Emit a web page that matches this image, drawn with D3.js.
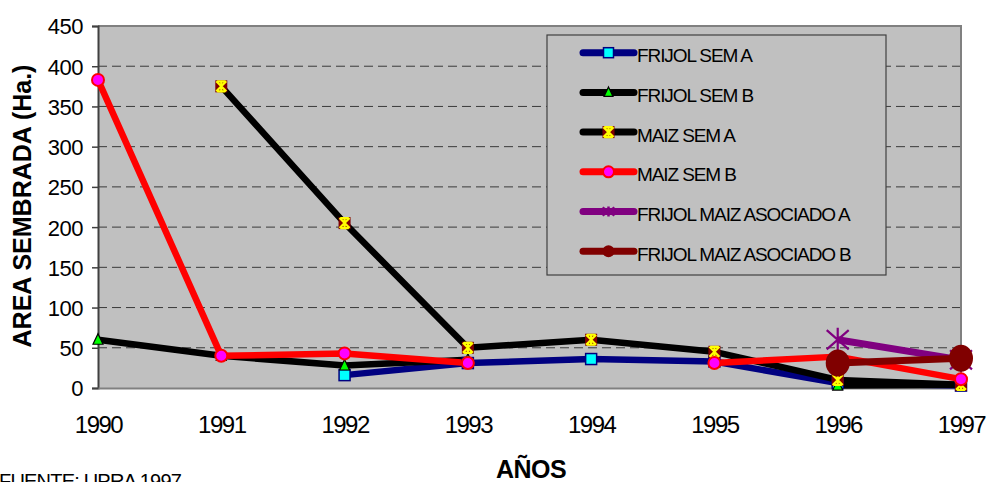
<!DOCTYPE html>
<html><head><meta charset="utf-8">
<script src="https://cdn.jsdelivr.net/npm/d3@7"></script>
<style>body{margin:0;background:#fff} svg{display:block}</style>
</head><body>
<svg id="c" width="989" height="482"></svg>
<script>
// ---- data ----
const years = ["1990","1991","1992","1993","1994","1995","1996","1997"];
const frijolSemA = [null, null, 16, 31, 36, 33, 6, 3];
const frijolSemB = [60, 40, 28, 35, null, null, 3, 4];
const maizSemA   = [null, 375, 205, 50, 60, 45, 10, 4];
const maizSemB   = [383, 40, 43, 31, null, 31, 39, 11];
const asocA      = [null, null, null, null, null, null, 60, 35];
const asocB      = [null, null, null, null, null, null, 31, 37];
const yTicks = [0, 50, 100, 150, 200, 250, 300, 350, 400, 450];
const seriesNames = ["FRIJOL SEM A","FRIJOL SEM B","MAIZ SEM A","MAIZ SEM B","FRIJOL MAIZ ASOCIADO A","FRIJOL MAIZ ASOCIADO B"];
const yTitle = "AREA SEMBRADA (Ha.)";
const xTitle = "AÑOS";
const source = "FUENTE: UPRA 1997";

const series = [
  {name: seriesNames[0], values: frijolSemA, color: "#000080", marker: "square"},
  {name: seriesNames[1], values: frijolSemB, color: "#000000", marker: "triangle"},
  {name: seriesNames[2], values: maizSemA,   color: "#000000", marker: "xsquare"},
  {name: seriesNames[3], values: maizSemB,   color: "#FF0000", marker: "circle"},
  {name: seriesNames[4], values: asocA,      color: "#800080", marker: "star"},
  {name: seriesNames[5], values: asocB,      color: "#800000", marker: "bigcircle"}
];

const svg = d3.select("#c");
const L = 98, R = 961, T = 26, B = 388;
const x = d3.scalePoint().domain(years).range([L, R]).padding(0);
const y = d3.scaleLinear().domain([0, 450]).range([B, T]);
const font = "'Liberation Sans', Arial, sans-serif";

// plot area
svg.append("rect").attr("x", L).attr("y", T).attr("width", R - L).attr("height", B - T)
  .attr("fill", "#C0C0C0");

// grid
svg.append("g").selectAll("line").data(yTicks.filter(v => v > 0 && v < 450)).join("line")
  .attr("x1", L).attr("x2", R).attr("y1", d => y(d)).attr("y2", d => y(d))
  .attr("stroke", "#3a3a3a").attr("stroke-width", 1).attr("stroke-dasharray", "9,5");

// border top/right
svg.append("path").attr("d", `M${L},${T}H${R}V${B}`).attr("fill", "none")
  .attr("stroke", "#808080").attr("stroke-width", 2);

// y axis
const yAxis = d3.axisLeft(y).tickValues(yTicks).tickSize(6).tickPadding(9).tickFormat(d3.format("d"));
const gy = svg.append("g").attr("transform", `translate(${L},0)`).call(yAxis);
gy.select(".domain").attr("stroke", "#404040").attr("stroke-width", 2);
gy.selectAll(".tick line").attr("stroke", "#404040").attr("stroke-width", 1.5);
gy.selectAll(".tick text").attr("font-family", font).attr("font-size", 22)
  .attr("letter-spacing", "-0.5px").attr("fill", "#000").attr("dy", "0.36em");

// x axis
const xAxis = d3.axisBottom(x).tickSize(0).tickPadding(0);
const gx = svg.append("g").attr("transform", `translate(0,${B})`).call(xAxis);
gx.select(".domain").attr("stroke", "#808080").attr("stroke-width", 2);
gx.selectAll(".tick text").attr("font-family", font).attr("font-size", 24)
  .attr("letter-spacing", "-1.5px").attr("fill", "#000").attr("dy", null).attr("y", 45);

// marker drawing
function drawMarker(g, type, cx, cy, legend) {
  const m = g.append("g").attr("transform", `translate(${cx},${cy})`);
  if (type === "square") {
    const s = legend ? 10 : 11;
    m.append("rect").attr("x", -s/2).attr("y", -s/2).attr("width", s).attr("height", s)
      .attr("fill", "#00FFFF").attr("stroke", "#000080").attr("stroke-width", 1.5);
  } else if (type === "triangle") {
    const s = legend ? 9 : 10;
    m.append("path").attr("d", `M0,${-s*0.6}L${s/2},${s*0.45}L${-s/2},${s*0.45}Z`)
      .attr("fill", "#00FF00").attr("stroke", "#000").attr("stroke-width", 1.2);
  } else if (type === "xsquare") {
    const s = 12;
    m.append("rect").attr("x", -s/2).attr("y", -s/2).attr("width", s).attr("height", s).attr("fill", "#800000");
    const h = s/2 - 1;
    m.append("path").attr("d", `M${-h},${-h}L${h},${h}M${h},${-h}L${-h},${h}M0,${-h}V${h}M${-h+1},${-h}H${h-1}M${-h+1},${h}H${h-1}`)
      .attr("stroke", "#FFFF00").attr("stroke-width", 2.2).attr("fill", "none");
  } else if (type === "circle") {
    const r = legend ? 5.5 : 6;
    m.append("circle").attr("r", r).attr("fill", "#FF00FF").attr("stroke", "#FF0000").attr("stroke-width", 2);
  } else if (type === "star") {
    const h = legend ? 6 : 11, v = legend ? 5 : 12;
    m.append("path").attr("d", `M${-h},${-v*0.8}L${h},${v*0.8}M${h},${-v*0.8}L${-h},${v*0.8}M0,${-v}V${v}`)
      .attr("stroke", "#800080").attr("stroke-width", legend ? 2.5 : 2.2).attr("fill", "none");
  } else if (type === "bigcircle") {
    const r = legend ? 6 : 12.5;
    m.append("ellipse").attr("rx", legend ? r : 12).attr("ry", legend ? r : 13.5).attr("fill", "#800000");
  }
}

// lines
const line = d3.line().defined(d => d.v != null).x(d => x(d.year)).y(d => y(d.v)).curve(d3.curveLinear);
const gl = svg.append("g");
series.forEach(s => {
  const pts = years.map((yr, i) => ({year: yr, v: s.values[i]}));
  gl.append("path").datum(pts).attr("d", line).attr("fill", "none")
    .attr("stroke", s.color).attr("stroke-width", s.marker === "star" || s.marker === "bigcircle" ? 7 : 6.5)
    .attr("stroke-linejoin", "round");
});
// markers
const gm = svg.append("g");
series.forEach(s => {
  years.forEach((yr, i) => {
    if (s.values[i] != null) drawMarker(gm, s.marker, x(yr), y(s.values[i]), false);
  });
});

// legend
const lg = svg.append("g");
lg.append("rect").attr("x", 547).attr("y", 35).attr("width", 339).attr("height", 240)
  .attr("fill", "#C0C0C0").attr("stroke", "#404040").attr("stroke-width", 1.2);
series.forEach((s, i) => {
  const cy = 52.7 + i * 39.7;
  lg.append("line").attr("x1", 583).attr("x2", 634).attr("y1", cy).attr("y2", cy)
    .attr("stroke", s.color).attr("stroke-width", 7).attr("stroke-linecap", "round");
  drawMarker(lg, s.marker, 608.5, cy, true);
  lg.append("text").attr("x", 637).attr("y", cy + 9.5).text(s.name)
    .attr("font-family", font).attr("font-size", 19).attr("letter-spacing", "-1.1px")
    .attr("fill", "#000");
});

// titles
svg.append("text").attr("transform", `translate(31,206) rotate(-90)`).attr("text-anchor", "middle")
  .attr("font-family", font).attr("font-size", 25).attr("font-weight", "bold").text(yTitle);
svg.append("text").attr("x", 531).attr("y", 478).attr("text-anchor", "middle")
  .attr("font-family", font).attr("font-size", 25).attr("font-weight", "bold")
  .attr("letter-spacing", "-0.5px").text(xTitle);
svg.append("text").attr("x", -1).attr("y", 488)
  .attr("font-family", font).attr("font-size", 20).attr("letter-spacing", "-0.8px").text(source);
</script>
</body></html>
